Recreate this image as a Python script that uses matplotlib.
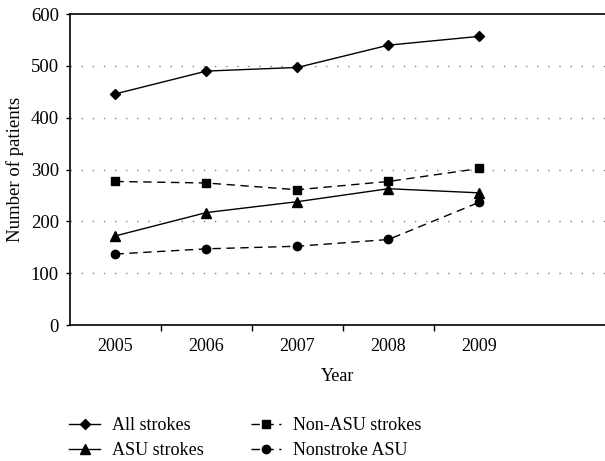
import matplotlib.pyplot as plt

years = ["2005", "2006", "2007", "2008", "2009"]
all_strokes = [446, 490, 497, 540, 557]
non_asu = [277, 274, 261, 277, 302]
asu = [172, 217, 238, 263, 255]
nonstroke_asu = [137, 147, 152, 165, 237]

plt.rcParams['font.family'] = ['Liberation Serif', 'DejaVu Serif']
plt.rcParams['font.size'] = 13

fig = plt.figure(figsize=(6.05, 4.61), dpi=100)
ax = fig.add_axes([0.1157, 0.295, 0.8843, 0.6745])

x = range(len(years))
ax.plot(x, all_strokes, color="black", lw=1, marker="D", ms=5.5, label="All strokes")
ax.plot(x, asu, color="black", lw=1, marker="^", ms=6.5, label="ASU strokes")
ax.plot(x, non_asu, color="black", lw=1, ls=(0, (6, 4)), marker="s", ms=5.5, label="Non-ASU strokes")
ax.plot(x, nonstroke_asu, color="black", lw=1, ls=(0, (6, 4)), marker="o", ms=6, label="Nonstroke ASU")

ax.set_ylim(0, 600)
ax.set_yticks(range(0, 601, 100))
ax.set_xlim(-0.5, 5.38)
ax.set_xticks(list(x))
ax.set_xticklabels(years)
ax.set_xticks([0.5, 1.5, 2.5, 3.5], minor=True)
ax.tick_params(axis="x", which="major", length=0, pad=9)
ax.tick_params(axis="x", which="minor", length=4, direction="out", width=1)
ax.tick_params(axis="y", length=3, direction="out", width=1, pad=5, labelsize=13.5)
for y in range(100, 600, 100):
    ax.axhline(y, color="gray", lw=1, ls=(0, (1, 7)), zorder=0)
ax.spines["right"].set_visible(False)
for s in ["top", "left", "bottom"]:
    ax.spines[s].set_linewidth(1.2)

ax.set_xlabel("Year", labelpad=10)
ax.set_ylabel("Number of patients", labelpad=5, fontsize=13.5)

fig.legend(loc="upper left", bbox_to_anchor=(0.088, 0.13), ncol=2, frameon=False,
           columnspacing=2.6, handlelength=1.7, handletextpad=0.65, labelspacing=0.45, fontsize=13)

fig.savefig("out.png", dpi=100)
